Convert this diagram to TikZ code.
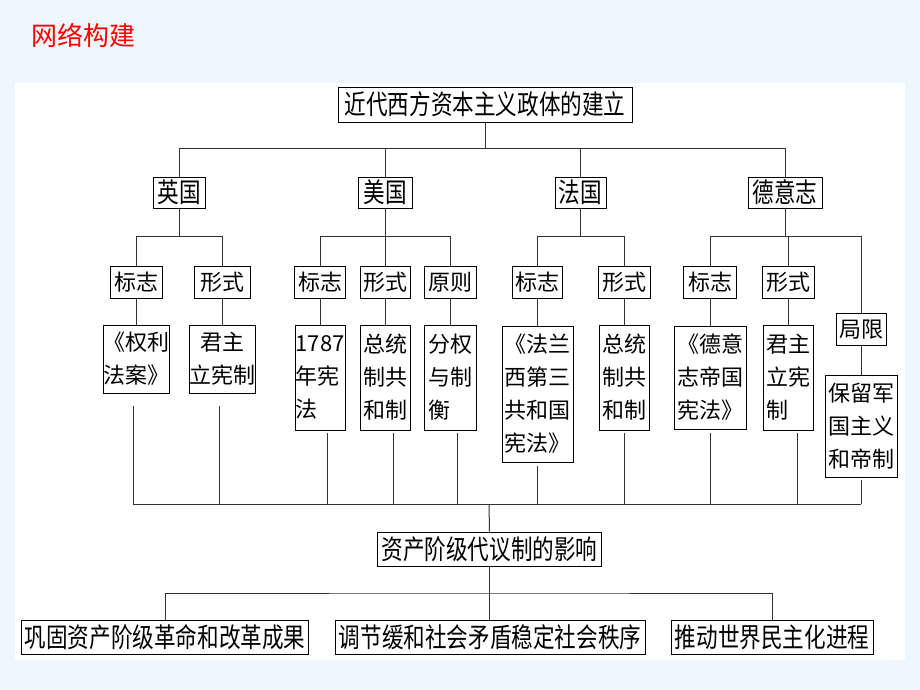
\documentclass[tikz,border=0pt]{standalone}
\usepackage{fontspec}
\setmainfont{Noto Sans CJK SC}
\newfontfamily\condfont[FakeStretch=0.80]{Noto Sans CJK SC}
\definecolor{bgblue}{RGB}{238,246,254}
\definecolor{lnk}{RGB}{50,50,50}
\tikzset{
  bx/.style={draw=black, line width=0.9pt, inner sep=0pt, fill=white},
  lk/.style={draw=lnk, line width=1pt},
  rowtwo/.style={bx, minimum height=32pt, font=\fontsize{22}{22}\selectfont},
  rowthree/.style={bx, align=left, font=\fontsize{22}{33}\selectfont},
  bigbox/.style={bx, minimum height=34pt, font=\condfont\fontsize{27}{27}\selectfont},
  cbox/.style={bx, minimum height=31pt, font=\condfont\fontsize{27}{27}\selectfont},
}
\begin{document}
\begin{tikzpicture}[x=1pt,y=-1pt]
\useasboundingbox (0,0) rectangle (920,690);
\fill[bgblue] (0,0) rectangle (920,690);
\fill[white] (15,83) rectangle (905,660);
\node[text=red, font=\fontsize{26}{26}\selectfont] (title) at (83,35) {网络构建};

% top
\node[bigbox, minimum width=294pt, minimum height=35pt] (T) at (485,104.5) {近代西方资本主义政体的建立};
% countries
\node[cbox, minimum width=52pt] (uk) at (179,192.5) {英国};
\node[cbox, minimum width=54pt] (us) at (385,192.5) {美国};
\node[cbox, minimum width=51pt] (fr) at (580.5,192.5) {法国};
\node[cbox, minimum width=74pt] (de) at (785,192.5) {德意志};
% row two
\node[rowtwo, minimum width=52pt] (uk1) at (136,282) {标志};
\node[rowtwo, minimum width=56pt] (uk2) at (222,282) {形式};
\node[rowtwo, minimum width=51pt] (us1) at (320,282) {标志};
\node[rowtwo, minimum width=50pt] (us2) at (385,282) {形式};
\node[rowtwo, minimum width=52pt] (us3) at (450,282) {原则};
\node[rowtwo, minimum width=50pt] (fr1) at (537,282) {标志};
\node[rowtwo, minimum width=52pt] (fr2) at (624,282) {形式};
\node[rowtwo, minimum width=53pt] (de1) at (710,282) {标志};
\node[rowtwo, minimum width=52pt] (de2) at (788,282) {形式};
\node[rowtwo, minimum width=50pt] (de3) at (861,329.5) {局限};
% row three
\node[rowthree, minimum width=58pt, minimum height=68pt] (uk1b) at (136,359) {《权利\\法案》};
\node[rowthree, align=center, minimum width=61pt, minimum height=68pt] (uk2b) at (222,359) {君主\\立宪制};
\node[rowthree, minimum width=50pt, minimum height=105pt] (us1b) at (320,377.5) {1787\\年宪\\法};
\node[rowthree, minimum width=50pt, minimum height=105pt] (us2b) at (385,377.5) {总统\\制共\\和制};
\node[rowthree, minimum width=52pt, minimum height=105pt] (us3b) at (450,377.5) {分权\\与制\\衡};
\node[rowthree, minimum width=71pt, minimum height=136pt] (fr1b) at (537.5,394) {《法兰\\西第三\\共和国\\宪法》};
\node[rowthree, minimum width=50pt, minimum height=105pt] (fr2b) at (624,377.5) {总统\\制共\\和制};
\node[rowthree, minimum width=72pt, minimum height=103pt] (de1b) at (710,377.5) {《德意\\志帝国\\宪法》};
\node[rowthree, minimum width=50pt, minimum height=105pt] (de2b) at (788,377.5) {君主\\立宪\\制};
\node[rowthree, minimum width=72pt, minimum height=102pt] (de3b) at (861,426.5) {保留军\\国主义\\和帝制};
% influence
\node[bigbox, minimum width=224pt] (I) at (489.5,549) {资产阶级代议制的影响};
\node[bigbox, minimum width=287pt] (b1) at (165,637) {巩固资产阶级革命和改革成果};
\node[bigbox, minimum width=310pt] (b2) at (490,637) {调节缓和社会矛盾稳定社会秩序};
\node[bigbox, minimum width=202pt] (b3) at (772,637) {推动世界民主化进程};

% connectors: top to countries
\coordinate (j0) at (485,148);
\draw[lk] (T.south) -- (j0);
\foreach \n in {uk,us,fr,de} \draw[lk] (j0) -| (\n.north);
% countries to row two
\coordinate (juk) at (179,236);
\coordinate (jus) at (385,236);
\coordinate (jfr) at (580.5,236);
\coordinate (jde) at (785,236);
\draw[lk] (uk.south) -- (juk);
\draw[lk] (us.south) -- (jus);
\draw[lk] (fr.south) -- (jfr);
\draw[lk] (de.south) -- (jde);
\foreach \n in {uk1,uk2} \draw[lk] (juk) -| (\n.north);
\foreach \n in {us1,us2,us3} \draw[lk] (jus) -| (\n.north);
\foreach \n in {fr1,fr2} \draw[lk] (jfr) -| (\n.north);
\foreach \n in {de1,de2,de3} \draw[lk] (jde) -| (\n.north);
% row two to row three
\foreach \n in {uk1,uk2,us1,us2,us3,fr1,fr2,de1,de2,de3}
  \draw[lk] (\n.south) -- (\n.south |- \n b.north);
% row three to influence
\coordinate (jb) at (489,504);
\foreach \n/\s/\g in {uk1b/-3/13,uk2b/-3/13,us1b/7/3,us2b/8/3,us3b/7/3,fr1b/0/4,fr2b/0/3,de1b/0/4,de2b/9/3,de3b/0/2}
  \draw[lk, shorten <=\g pt] ([xshift=\s pt]\n.south) -- ([xshift=\s pt]\n.south |- jb);
\draw[lk] ([xshift=-3pt]uk1b.south |- jb) -- (de3b.south |- jb);
\draw[lk] (jb) -- (I.north);
% influence to results
\coordinate (jc) at (489.5,593);
\draw[lk] (I.south) -- (I.south |- b2.north);
\draw[lk] (b1.north) |- (jc) -| (b3.north);
\end{tikzpicture}
\end{document}
